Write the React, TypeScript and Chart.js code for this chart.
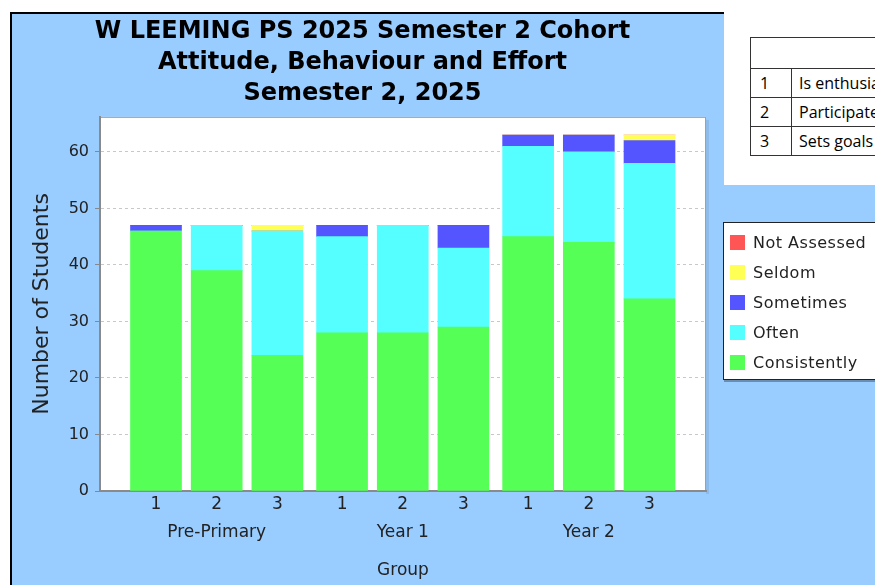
import React, { useEffect, useRef } from "react";
import { Chart, registerables } from "chart.js";

Chart.register(...registerables);

// ---- data ----
const titleLines = [
  "W LEEMING PS 2025 Semester 2 Cohort",
  "Attitude, Behaviour and Effort",
  "Semester 2, 2025",
];
const groups = ["Pre-Primary", "Year 1", "Year 2"];
const subGroups = ["1", "2", "3"];
const seriesNames = ["Consistently", "Often", "Sometimes", "Seldom", "Not Assessed"];
const consistently = [46, 39, 24, 28, 28, 29, 45, 44, 34];
const often = [0, 8, 22, 17, 19, 14, 16, 16, 24];
const sometimes = [1, 0, 0, 2, 0, 4, 2, 3, 4];
const seldom = [0, 0, 1, 0, 0, 0, 0, 0, 1];
const notAssessed = [0, 0, 0, 0, 0, 0, 0, 0, 0];
const seriesColors = ["#55FF55", "#55FFFF", "#5555FF", "#FFFF55", "#FF5555"];
const yTicks = [0, 10, 20, 30, 40, 50, 60];
const tableRows = [
  ["1", "Is enthusiastic about learning"],
  ["2", "Participates responsibly in class activities"],
  ["3", "Sets goals and works towards them"],
];

const seriesValues = [consistently, often, sometimes, seldom, notAssessed];
const GROUP_GAP = 0.066;
const positions = groups.flatMap((_, gi) =>
  subGroups.map((_, si) => gi * (subGroups.length + GROUP_GAP) + si)
);

const FONT = "'DejaVu Sans', sans-serif";

const plotBg = {
  id: "plotBg",
  beforeDraw(chart: any) {
    const { ctx, chartArea: a } = chart;
    ctx.save();
    ctx.fillStyle = "rgba(0,0,0,0.08)";
    ctx.fillRect(a.right, a.top + 3, 3, a.height);
    ctx.fillStyle = "#ffffff";
    ctx.fillRect(a.left, a.top, a.right - a.left, a.bottom - a.top);
    ctx.strokeStyle = "#a0a0a0";
    ctx.lineWidth = 1;
    ctx.strokeRect(a.left + 0.5, a.top + 0.5, a.right - a.left - 1, a.bottom - a.top - 1);
    ctx.restore();
  },
};

function ChartCanvas() {
  const ref = useRef<HTMLCanvasElement | null>(null);
  useEffect(() => {
    if (!ref.current) return;
    const chart = new Chart(ref.current, {
      type: "bar",
      data: {
        datasets: seriesNames.map((name, k) => ({
          label: name,
          data: seriesValues[k].map((v, i) => ({ x: positions[i], y: v })),
          backgroundColor: seriesColors[k],
          borderWidth: 0,
          barThickness: 51,
          stack: "s",
        })),
      },
      options: {
        animation: false,
        responsive: false,
        devicePixelRatio: 1,
        layout: { padding: { left: 9, right: 18, top: 0, bottom: 0 } },
        plugins: {
          legend: { display: false },
          tooltip: { enabled: false },
          title: {
            display: true,
            text: titleLines,
            color: "#000",
            font: { family: FONT, size: 24, weight: "bold", lineHeight: 1.29 },
            padding: { top: 4, bottom: 8 },
          },
        },
        scales: {
          x: {
            type: "linear",
            stacked: true,
            offset: false,
            min: -0.923,
            max: 9.063,
            afterBuildTicks: (s: any) => {
              s.ticks = positions.map((v) => ({ value: v }));
            },
            afterFit: (s: any) => {
              s.height = 94;
            },
            grid: { display: false, drawTicks: false, offset: false },
            border: { display: true, color: "#8a8a8a", width: 2 },
            ticks: {
              autoSkip: false,
              maxRotation: 0,
              padding: 7,
              color: "#222",
              font: { family: FONT, size: 17, lineHeight: "14px" },
              callback: (_v: any, index: number) => {
                const si = index % subGroups.length;
                const gi = Math.floor(index / subGroups.length);
                return si === 1 ? [subGroups[si], "", groups[gi]] : subGroups[si];
              },
            },
            title: {
              display: true,
              text: "Group",
              color: "#222",
              font: { family: FONT, size: 17 },
              padding: { top: 0, bottom: 4 },
            },
          },
          y: {
            stacked: true,
            min: 0,
            max: 66.2,
            afterBuildTicks: (s: any) => {
              s.ticks = yTicks.map((v) => ({ value: v }));
            },
            afterFit: (s: any) => {
              s.width = 81;
            },
            grid: {
              color: "#c8c8c8",
              lineWidth: 1,
              drawTicks: true,
              tickLength: 5,
              tickColor: "#888",
              tickBorderDash: [],
            },
            border: { display: true, color: "#8a8a8a", width: 2, dash: [3, 3] },
            ticks: {
              padding: 6,
              color: "#222",
              font: { family: FONT, size: 16 },
              callback: (v: any) => String(v),
            },
            title: {
              display: true,
              text: "Number of Students",
              color: "#222",
              font: { family: FONT, size: 22 },
              padding: { top: 10, bottom: 0 },
            },
          },
        },
      },
      plugins: [plotBg],
    } as any);
    return () => chart.destroy();
  }, []);
  return (
    <canvas
      ref={ref}
      width={714}
      height={573}
      style={{ position: "absolute", left: 10, top: 12, width: 714, height: 573 }}
    />
  );
}

export default function App() {
  const legendItems = seriesNames.map((n, k) => ({ n, c: seriesColors[k] })).reverse();
  return (
    <div
      style={{
        position: "absolute",
        left: 0,
        top: 0,
        width: 875,
        height: 585,
        overflow: "hidden",
        background: "#fff",
      }}
    >
      <div
        style={{
          position: "absolute",
          left: 10,
          top: 12,
          width: 865,
          height: 573,
          background: "#99CCFF",
          borderTop: "2px solid #000",
          borderLeft: "2px solid #000",
          boxSizing: "border-box",
        }}
      />
      <ChartCanvas />
      <div
        style={{
          position: "absolute",
          left: 724,
          top: 0,
          width: 151,
          height: 185,
          background: "#fff",
          overflow: "hidden",
        }}
      >
        <table
          style={{
            position: "absolute",
            left: 26,
            top: 37,
            width: 360,
            borderCollapse: "collapse",
            fontFamily: "'Open Sans', Lato, sans-serif",
            fontSize: 16,
            color: "#000",
          }}
        >
          <tbody>
            <tr style={{ height: 31 }}>
              <td colSpan={2} style={{ border: "1px solid #333" }}></td>
            </tr>
            {tableRows.map((r) => (
              <tr key={r[0]} style={{ height: 29 }}>
                <td style={{ border: "1px solid #333", width: 41, padding: "0 0 0 9px", boxSizing: "border-box" }}>{r[0]}</td>
                <td style={{ border: "1px solid #333", padding: "0 0 0 7px", whiteSpace: "nowrap" }}>{r[1]}</td>
              </tr>
            ))}
          </tbody>
        </table>
      </div>
      <div
        style={{
          position: "absolute",
          left: 723,
          top: 222,
          width: 170,
          height: 158,
          background: "#fff",
          border: "1px solid #222",
          boxShadow: "1px 2px 0 rgba(0,0,0,0.3)",
          boxSizing: "border-box",
          paddingTop: 4,
        }}
      >
        {legendItems.map((it) => (
          <div
            key={it.n}
            style={{ display: "flex", alignItems: "center", height: 30, paddingLeft: 6 }}
          >
            <div style={{ width: 15, height: 15, background: it.c, flex: "none" }} />
            <span
              style={{
                marginLeft: 8,
                fontFamily: FONT,
                fontSize: 16,
                letterSpacing: 0.5,
                color: "#222",
                whiteSpace: "nowrap",
              }}
            >
              {it.n}
            </span>
          </div>
        ))}
      </div>
    </div>
  );
}
